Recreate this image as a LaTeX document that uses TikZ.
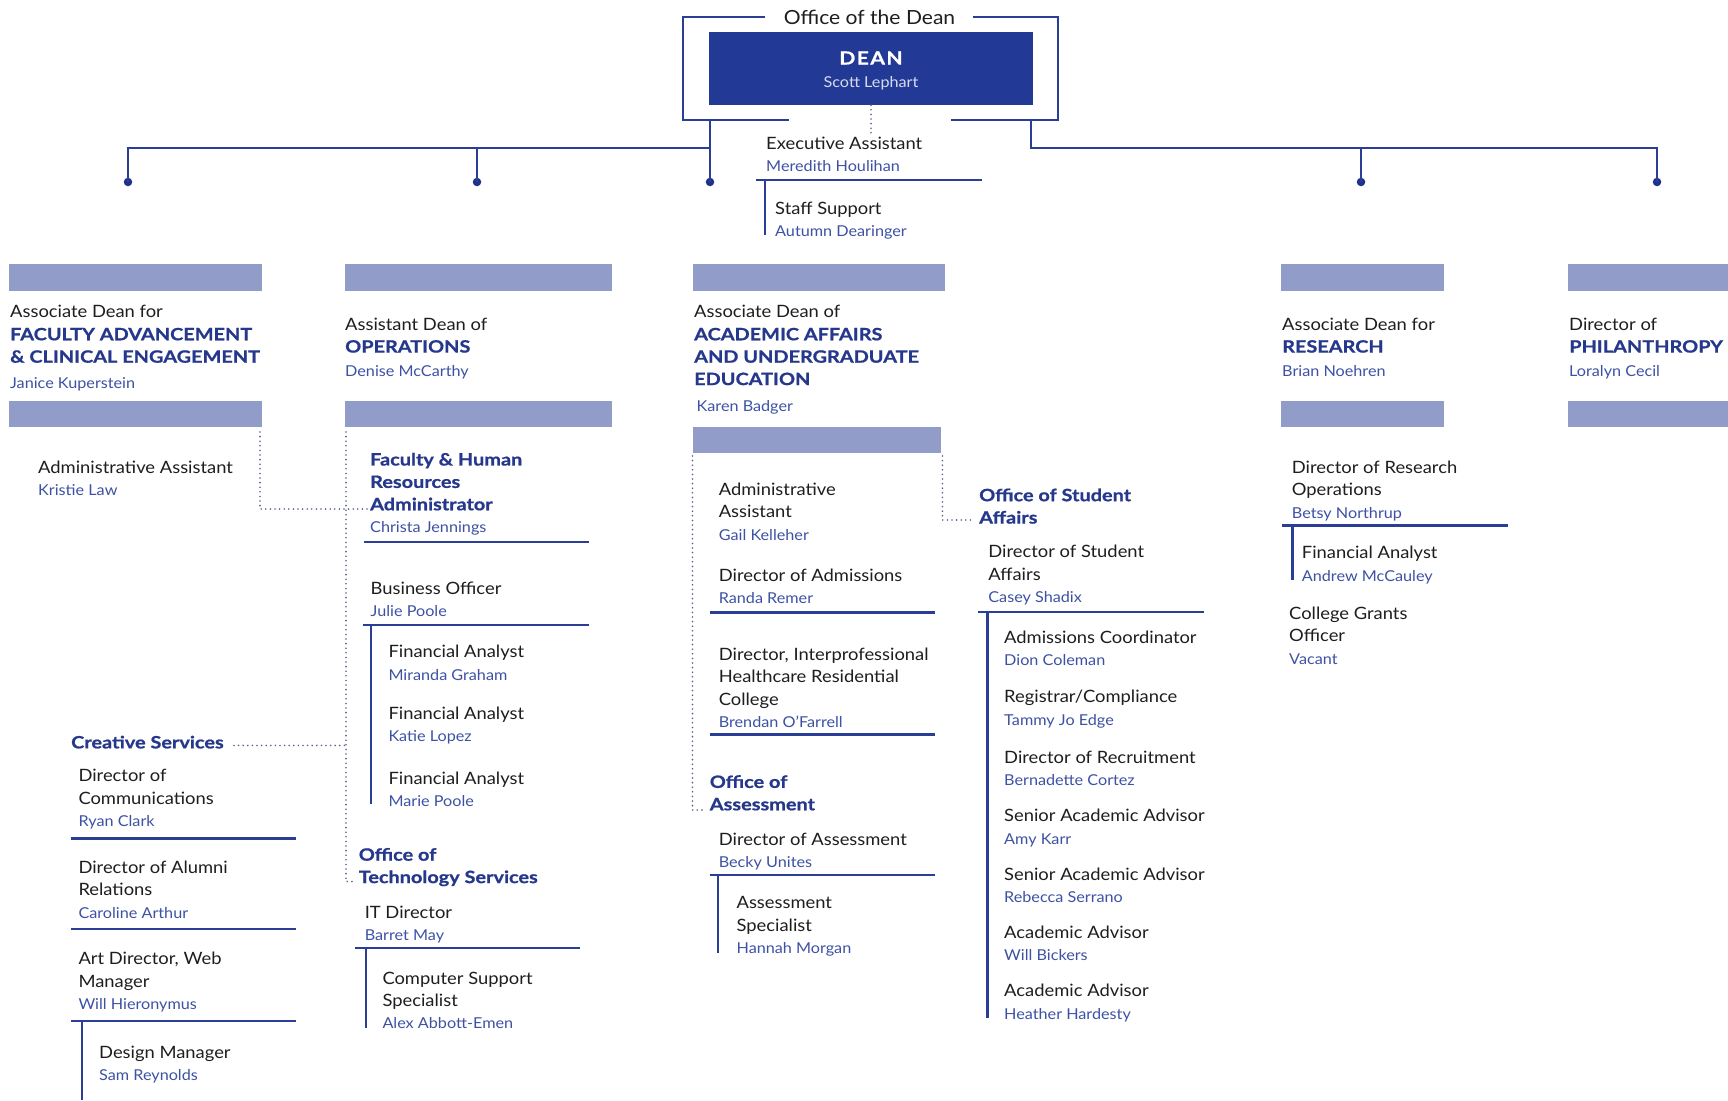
\documentclass[tikz,border=0pt]{standalone}
\usepackage{fontspec}
\setmainfont{Lato}[FakeStretch=1.08, BoldFeatures={FakeStretch=1.17, FakeBold=0.8}]
\definecolor{deanblue}{RGB}{35,57,150}
\definecolor{linec}{RGB}{42,62,150}
\definecolor{barc}{RGB}{145,157,200}
\definecolor{headc}{RGB}{38,56,140}
\definecolor{namec}{RGB}{62,82,165}
\definecolor{dotc}{RGB}{90,98,140}
\definecolor{txtc}{RGB}{30,30,30}
\definecolor{dotblue}{RGB}{30,50,140}
\newcommand\nm[1]{{\color{namec}\fontsize{15}{22.4}\selectfont #1}}
\newcommand\hd[1]{{\color{headc}\bfseries #1}}
\begin{document}
\begin{tikzpicture}[x=1pt,y=-1pt,
  conn/.style={draw=linec, line width=2.4pt},
  dots/.style={draw=dotc, line width=1.8pt, dash pattern=on 0pt off 4.6pt, line cap=round},
  entry/.style={anchor=north west, inner sep=0pt, align=left, font=\fontsize{17}{22.4}\selectfont, text=txtc, yshift=9.7pt},
  dotn/.style={circle, fill=dotblue, inner sep=0pt, minimum size=8.5pt}]
\useasboundingbox[fill=white] (0,0) rectangle (1728,1100);

% ---------- Office of the Dean ----------
\node[inner sep=0pt, font=\fontsize{19.5}{24}\selectfont, text=txtc] (office) at (869.5,17) {Office of the Dean};
\draw[conn] (765,17) -- (683,17) -- (683,120) -- (789,120);
\draw[conn] (973,17) -- (1058,17) -- (1058,120) -- (951,120);
\node[fill=deanblue, minimum width=324pt, minimum height=73pt, inner sep=0pt] (dean) at (871,68.5) {};
\node[anchor=base, inner sep=0pt, text=white, font=\bfseries\fontsize{18}{24}\selectfont\addfontfeatures{LetterSpace=8}] (deant) at (871,64.5) {DEAN};
\node[anchor=base, inner sep=0pt, text=white!82!deanblue, font=\fontsize{15}{24}\selectfont] (deann) at (871,87.5) {Scott Lephart};
\coordinate (eatop) at (871,133);
\draw[dots] (dean.south) -- (eatop);

% ---------- top connectors ----------
\node[dotn] (d1) at (128,182) {};
\node[dotn] (d2) at (477,182) {};
\node[dotn] (d3) at (710,182) {};
\node[dotn] (d4) at (1361,182) {};
\node[dotn] (d5) at (1657,182) {};
\coordinate (lj) at (710,120);
\coordinate (rj) at (1031,120);
\draw[conn] (lj) -- (d3.center);
\draw[conn] (d1.center) -- (128,148) -- (710,148);
\draw[conn] (d2.center) -- (477,148);
\draw[conn] (rj) -- (1031,148) -- (1657,148) -- (d5.center);
\draw[conn] (d4.center) -- (1361,148);

% ---------- executive assistant ----------
\node[entry] (ea) at (766,143) {\strut Executive Assistant\\\nm{Meredith Houlihan}};
\draw[conn] (756,180) -- (982,180);
\draw[conn] (765,180) -- (765,235);
\node[entry] (ss) at (775,208) {\strut Staff Support\\\nm{Autumn Dearinger}};

% ---------- bars ----------
\fill[barc] (9,264) rectangle (262,291);
\fill[barc] (345,264) rectangle (612,291);
\fill[barc] (693,264) rectangle (945,291);
\fill[barc] (1281,264) rectangle (1444,291);
\fill[barc] (1568,264) rectangle (1728,291);
\fill[barc] (9,401) rectangle (262,427);
\fill[barc] (345,401) rectangle (612,427);
\fill[barc] (693,427) rectangle (941,453);
\fill[barc] (1281,401) rectangle (1444,427);
\fill[barc] (1568,401) rectangle (1728,427);

% ---------- headers ----------
\node[entry] (h1) at (10,311.7) {\strut Associate Dean for\\\hd{FACULTY ADVANCEMENT}\\\hd{\& CLINICAL ENGAGEMENT}\\[3pt]\nm{Janice Kuperstein}};
\node[entry] (h2) at (345,324) {\strut Assistant Dean of\\\hd{OPERATIONS}\\[2pt]\nm{Denise McCarthy}};
\node[entry] (h3) at (694,311.7) {\strut Associate Dean of\\\hd{ACADEMIC AFFAIRS}\\\hd{AND UNDERGRADUATE}\\\hd{EDUCATION}\\[4pt]\nm{\,Karen Badger}};
\node[entry] (h4) at (1282,324) {\strut Associate Dean for\\\hd{RESEARCH}\\[2pt]\nm{Brian Noehren}};
\node[entry] (h5) at (1569,324) {\strut Director of\\\hd{PHILANTHROPY}\\[2pt]\nm{Loralyn Cecil}};

% ---------- column 1 ----------
\node[entry] (aa1) at (38,467.3) {\strut Administrative Assistant\\\nm{Kristie Law}};
\draw[dots] (260,432) -- (260,509) -- (368,509);

% ---------- column 2 ----------
\draw[dots] (346,432) -- (346,881.5) -- (356,881.5);
\node[entry] (fha) at (370,459.3) {\strut\hd{Faculty \& Human}\\\hd{Resources}\\\hd{Administrator}\\\nm{Christa Jennings}};
\draw[conn] (363.5,541.7) -- (588.6,541.7);
\node[entry] (bo) at (370.5,587.9) {\strut Business Officer\\\nm{Julie Poole}};
\draw[conn] (363,624.7) -- (589,624.7);
\draw[conn] (371,624.7) -- (371,804.3);
\node[entry] (fa1) at (388.3,651.7) {\strut Financial Analyst\\\nm{Miranda Graham}};
\node[entry] (fa2) at (388.3,713.1) {\strut Financial Analyst\\\nm{Katie Lopez}};
\node[entry] (fa3) at (388.3,778) {\strut Financial Analyst\\\nm{Marie Poole}};

\node[entry] (cs) at (71,742.2) {\strut\hd{Creative Services}};
\draw[dots] (234,745.4) -- (346,745.4);
\node[entry] (dc) at (78.3,775.5) {\strut Director of\\Communications\\\nm{Ryan Clark}};
\draw[conn] (71,838.3) -- (296,838.3);
\node[entry] (dar) at (78.3,867.4) {\strut Director of Alumni\\Relations\\\nm{Caroline Arthur}};
\draw[conn] (71,928.8) -- (296,928.8);
\node[entry] (ad) at (78.3,958.6) {\strut Art Director, Web\\Manager\\\nm{Will Hieronymus}};
\draw[conn] (71,1021.1) -- (296,1021.1);
\draw[conn] (82,1021.1) -- (82,1100);
\node[entry] (dm) at (99,1052.3) {\strut Design Manager\\\nm{Sam Reynolds}};

\node[entry] (ots) at (358.6,854.5) {\strut\hd{Office of}\\\hd{Technology Services}};
\node[entry] (itd) at (364.6,912.3) {\strut IT Director\\\nm{Barret May}};
\draw[conn] (354.7,948.1) -- (580,948.1);
\draw[conn] (365.7,948.1) -- (365.7,1027.7);
\node[entry] (css) at (382.3,977.9) {\strut Computer Support\\Specialist\\\nm{Alex Abbott-Emen}};

% ---------- column 3 ----------
\draw[dots] (692.5,456) -- (692.5,810) -- (706,810);
\node[entry] (aa3) at (718.6,489.3) {\strut Administrative\\Assistant\\\nm{Gail Kelleher}};
\node[entry] (dadm) at (718.6,575) {\strut Director of Admissions\\\nm{Randa Remer}};
\draw[conn] (709.6,612.3) -- (935.3,612.3);
\node[entry] (dih) at (718.6,654.3) {\strut Director, Interprofessional\\Healthcare Residential\\College\\\nm{Brendan O’Farrell}};
\draw[conn] (709.6,734.3) -- (935.3,734.3);
\node[entry] (oa) at (709.6,781.7) {\strut\hd{Office of}\\\hd{Assessment}};
\node[entry] (das) at (718.6,839.3) {\strut Director of Assessment\\\nm{Becky Unites}};
\draw[conn] (709.6,875) -- (935.3,875);
\draw[conn] (718.2,875) -- (718.2,952.7);
\node[entry] (asp) at (736.4,902.7) {\strut Assessment\\Specialist\\\nm{Hannah Morgan}};

\draw[dots] (942.4,456) -- (942.4,520) -- (974,520);
\node[entry] (osa) at (979,495) {\strut\hd{Office of Student}\\\hd{Affairs}};
\node[entry] (dsa) at (988.2,551.7) {\strut Director of Student\\Affairs\\\nm{Casey Shadix}};
\draw[conn] (978.2,611.7) -- (1204,611.7);
\draw[conn] (987.5,611.7) -- (987.5,1018);
\node[entry] (ac) at (1004,637.3) {\strut Admissions Coordinator\\\nm{Dion Coleman}};
\node[entry] (rc) at (1004,696.7) {\strut Registrar/Compliance\\\nm{Tammy Jo Edge}};
\node[entry] (dr) at (1004,757.3) {\strut Director of Recruitment\\\nm{Bernadette Cortez}};
\node[entry] (saa1) at (1004,815.7) {\strut Senior Academic Advisor\\\nm{Amy Karr}};
\node[entry] (saa2) at (1004,874) {\strut Senior Academic Advisor\\\nm{Rebecca Serrano}};
\node[entry] (aca1) at (1004,932.3) {\strut Academic Advisor\\\nm{Will Bickers}};
\node[entry] (aca2) at (1004,990.7) {\strut Academic Advisor\\\nm{Heather Hardesty}};

% ---------- column 4 ----------
\node[entry] (dro) at (1291.7,467.3) {\strut Director of Research\\Operations\\\nm{Betsy Northrup}};
\draw[conn] (1282,525.3) -- (1508,525.3);
\draw[conn] (1292.3,525.3) -- (1292.3,580);
\node[entry] (fa4) at (1301.7,552.7) {\strut Financial Analyst\\\nm{Andrew McCauley}};
\node[entry] (cgo) at (1289,613.3) {\strut College Grants\\Officer\\\nm{Vacant}};
\end{tikzpicture}
\end{document}
